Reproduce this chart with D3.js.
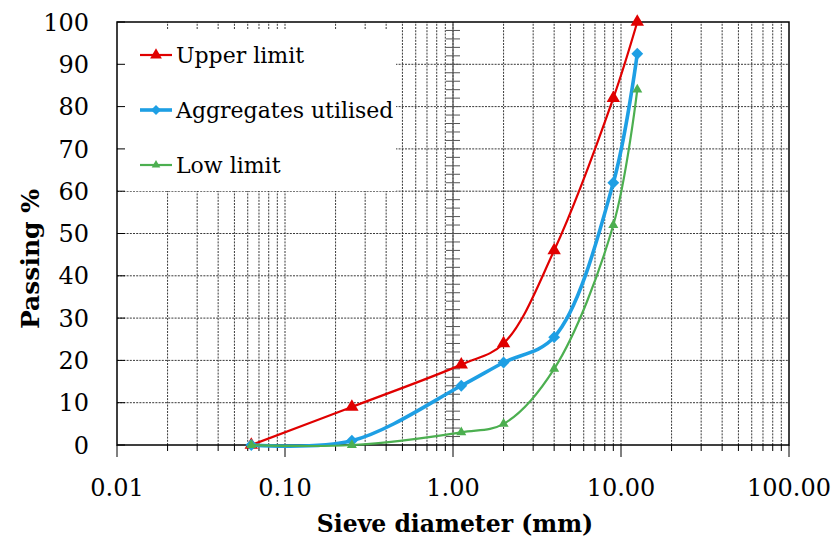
<!DOCTYPE html>
<html>
<head>
<meta charset="utf-8">
<script src="https://cdn.jsdelivr.net/npm/d3@7"></script>
<style>
  body { margin: 0; background: #fff; }
  svg { display: block; }
  .tick-label { font-family: 'DejaVu Serif', serif; font-size: 24px; fill: #000; }
  .axis-title { font-family: 'DejaVu Serif', serif; font-size: 23.5px; font-weight: bold; fill: #000; }
  .legend-text { font-family: 'DejaVu Serif', serif; font-size: 22px; fill: #000; }
</style>
</head>
<body>
<div id="chart"></div>
<script>
// sieve sizes (mm)
const sieveSizes = [0.063, 0.25, 1.12, 2, 4, 9, 12.5];
const upperLimit = [0, 9, 19, 24, 46, 82, 100];
const aggregatesUtilised = [0, 1, 14, 19.5, 25.5, 62, 92.5];
const lowLimit = [0, 0, 3, 5, 18, 52, 84];

const seriesNames = ['Upper limit', 'Aggregates utilised', 'Low limit'];
const xTickLabels = ['0.01', '0.10', '1.00', '10.00', '100.00'];
const yTicks = [0, 10, 20, 30, 40, 50, 60, 70, 80, 90, 100];

const width = 834, height = 540;
const margin = {top: 22, right: 45, bottom: 95, left: 117};

const svg = d3.select('#chart').append('svg')
  .attr('width', width)
  .attr('height', height);

const x = d3.scaleLog().domain([0.01, 100]).range([margin.left, width - margin.right]);
const y = d3.scaleLinear().domain([0, 100]).range([height - margin.bottom, margin.top]);

const decades = [0.01, 0.1, 1, 10];
const minorValues = [];
decades.forEach(d => { for (let k = 1; k <= 9; k++) minorValues.push(+(d * k).toPrecision(3)); });
minorValues.push(100);

// Grid
const grid = svg.append('g').attr('class', 'grid');
grid.selectAll('line.vgrid')
  .data(minorValues.filter(v => v > 0.01 && v < 100))
  .enter().append('line')
    .attr('class', 'vgrid')
    .attr('x1', d => x(d)).attr('x2', d => x(d))
    .attr('y1', y(0)).attr('y2', y(100))
    .attr('stroke', '#222')
    .attr('stroke-width', 0.9)
    .attr('stroke-dasharray', '2,1.2');

grid.selectAll('line.hgrid')
  .data(yTicks.filter(v => v > 0 && v < 100))
  .enter().append('line')
    .attr('class', 'hgrid')
    .attr('x1', x(0.01)).attr('x2', x(100))
    .attr('y1', d => y(d)).attr('y2', d => y(d))
    .attr('stroke', '#222')
    .attr('stroke-width', 0.9)
    .attr('stroke-dasharray', '2,1.2');

// vertical axis crossing at 1.0 with minor ticks
svg.append('line')
  .attr('x1', x(1)).attr('x2', x(1))
  .attr('y1', y(0)).attr('y2', y(100))
  .attr('stroke', '#555')
  .attr('stroke-width', 1.2);

svg.append('g')
  .selectAll('line')
  .data(d3.range(2, 100, 2))
  .enter().append('line')
    .attr('x1', x(1) - 7).attr('x2', x(1) + 7)
    .attr('y1', d => y(d)).attr('y2', d => y(d))
    .attr('stroke', '#555')
    .attr('stroke-width', 1);

// Legend background
svg.append('rect')
  .attr('x', margin.left + 1)
  .attr('y', margin.top + 7)
  .attr('width', 278)
  .attr('height', 162)
  .attr('fill', '#fff');

// left axis ticks (inward)
svg.append('g')
  .selectAll('line')
  .data(yTicks)
  .enter().append('line')
    .attr('x1', margin.left).attr('x2', margin.left + 8)
    .attr('y1', d => y(d)).attr('y2', d => y(d))
    .attr('stroke', '#000')
    .attr('stroke-width', 1);

// bottom axis ticks (outward)
svg.append('g')
  .selectAll('line')
  .data(minorValues)
  .enter().append('line')
    .attr('x1', d => x(d)).attr('x2', d => x(d))
    .attr('y1', y(0))
    .attr('y2', d => y(0) + (decades.concat([100]).includes(d) ? 12 : 6))
    .attr('stroke', '#000')
    .attr('stroke-width', 1);

// plot border
svg.append('rect')
  .attr('x', margin.left).attr('y', margin.top)
  .attr('width', x(100) - x(0.01))
  .attr('height', y(0) - y(100))
  .attr('fill', 'none')
  .attr('stroke', '#000')
  .attr('stroke-width', 1.5);

// Tick labels
svg.append('g')
  .selectAll('text')
  .data(yTicks)
  .enter().append('text')
    .attr('class', 'tick-label')
    .attr('x', margin.left - 28)
    .attr('y', d => y(d))
    .attr('dy', '0.36em')
    .attr('text-anchor', 'end')
    .text(d => d);

svg.append('g')
  .selectAll('text')
  .data(xTickLabels)
  .enter().append('text')
    .attr('class', 'tick-label')
    .attr('x', d => x(+d))
    .attr('y', 496)
    .attr('text-anchor', 'middle')
    .text(d => d);

// Axis titles
svg.append('text')
  .attr('class', 'axis-title')
  .attr('x', 455)
  .attr('y', 532)
  .attr('text-anchor', 'middle')
  .text('Sieve diameter (mm)');

svg.append('text')
  .attr('class', 'axis-title')
  .attr('transform', 'translate(39,259) rotate(-90)')
  .attr('text-anchor', 'middle')
  .style('font-size', '25px')
  .text('Passing %');

// Series
const series = [
  {name: seriesNames[0], values: upperLimit, color: '#e00000', width: 2.2, symbol: d3.symbolTriangle, size: 78, rotate: 0, legendSize: 60},
  {name: seriesNames[1], values: aggregatesUtilised, color: '#1e9fe4', width: 3.6, symbol: d3.symbolSquare, size: 70, rotate: 45, legendSize: 50},
  {name: seriesNames[2], values: lowLimit, color: '#4caf50', width: 2.2, symbol: d3.symbolTriangle, size: 44, rotate: 0, legendSize: 32}
];

const line = d3.line()
  .x(d => x(d[0]))
  .y(d => y(d[1]))
  .curve(d3.curveCatmullRom.alpha(0.5));

series.forEach(s => {
  const pts = sieveSizes.map((v, i) => [v, s.values[i]]);
  const g = svg.append('g').attr('class', 'series');
  g.append('path')
    .attr('d', line(pts))
    .attr('fill', 'none')
    .attr('stroke', s.color)
    .attr('stroke-width', s.width)
    .attr('stroke-linejoin', 'round')
    .attr('stroke-linecap', 'round');
  g.selectAll('path.marker')
    .data(pts)
    .enter().append('path')
      .attr('class', 'marker')
      .attr('d', d3.symbol().type(s.symbol).size(s.size))
      .attr('transform', d => 'translate(' + x(d[0]) + ',' + y(d[1]) + ') rotate(' + s.rotate + ')')
      .attr('fill', s.color);
});

// Legend
const legendRows = [55, 110, 165];
const legends = svg.append('g')
  .selectAll('g')
  .data(series)
  .enter().append('g')
    .attr('transform', (d, i) => 'translate(0,' + legendRows[i] + ')');

legends.append('line')
  .attr('x1', 140).attr('x2', 172)
  .attr('y1', 0).attr('y2', 0)
  .attr('stroke', d => d.color)
  .attr('stroke-width', d => d.width);

legends.append('path')
  .attr('d', d => d3.symbol().type(d.symbol).size(d.legendSize)())
  .attr('transform', d => 'translate(156,0) rotate(' + d.rotate + ')')
  .attr('fill', d => d.color);

legends.append('text')
  .attr('class', 'legend-text')
  .attr('x', 176)
  .attr('y', 0)
  .attr('dy', '0.36em')
  .text(d => d.name);
</script>
</body>
</html>
